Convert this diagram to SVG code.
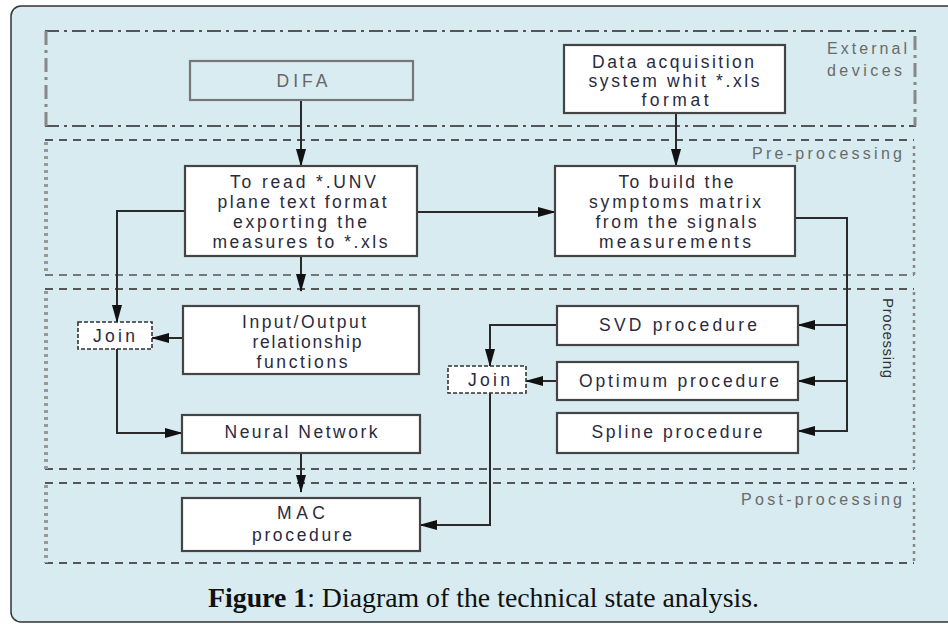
<svg xmlns="http://www.w3.org/2000/svg" width="948" height="624" viewBox="0 0 948 624">
<defs>
<marker id="ah" viewBox="0 0 18 10" refX="17" refY="5" markerWidth="18" markerHeight="10" markerUnits="userSpaceOnUse" orient="auto">
<path d="M0,0 L18,5 L0,10 z" fill="#111"/>
</marker>
<style>
.box{fill:#ffffff;stroke:#444;stroke-width:2.2}
.join{fill:#ffffff;stroke:#333;stroke-width:1.6;stroke-dasharray:4 2}
.t{font-family:"Liberation Sans",Arial,sans-serif;font-size:17.5px;fill:#2a2a3e;text-anchor:middle}
.lab{font-family:"Liberation Sans",Arial,sans-serif;font-size:16px;fill:#6a6a6a;text-anchor:end}
.ca{fill:none;stroke:#2a2a2a;stroke-width:2;marker-end:url(#ah)}
.dashH{fill:none;stroke:#555;stroke-width:2;stroke-dasharray:8 6}
.dashHl{fill:none;stroke:#777;stroke-width:1.8;stroke-dasharray:8 6}
.dotL{fill:none;stroke:#999;stroke-width:4;stroke-dasharray:3 4}
.dotR{fill:none;stroke:#888;stroke-width:2.5;stroke-dasharray:3 4}
.dd{fill:none;stroke:#555;stroke-width:2;stroke-dasharray:14 5 3 5}
.ddv{fill:none;stroke:#888;stroke-width:3;stroke-dasharray:14 5 3 5}
</style>
</defs>
<rect x="0" y="0" width="948" height="624" fill="#ffffff"/>
<rect x="11" y="6" width="950" height="616" rx="10" ry="10" fill="#d7ebf0" stroke="#333" stroke-width="1.5"/>

<g id="regions">
<path class="dd" d="M45,31 H916"/>
<path class="dd" d="M45,126 H916"/>
<path class="ddv" d="M46,31 V126"/>
<path class="ddv" d="M915,36 V126"/>
<path class="dashH" d="M45,140 H914"/>
<path class="dashHl" d="M45,275 H914"/>
<path class="dotL" d="M46,142 V275"/>
<path class="dotR" d="M914,146 V275"/>
<path class="dashH" d="M45,289 H914"/>
<path class="dashH" d="M45,469 H914"/>
<path class="dotL" d="M46,291 V469"/>
<path class="dotR" d="M914,292 V469"/>
<path class="dashH" d="M45,483 H914"/>
<path class="dashH" d="M45,563 H914"/>
<path class="dotL" d="M46,485 V563"/>
<path class="dotR" d="M914,488 V562"/>
</g>

<g id="region-labels">
<text class="lab" x="907" y="54" textLength="80" lengthAdjust="spacing">External</text>
<text class="lab" x="902" y="76" textLength="75" lengthAdjust="spacing">devices</text>
<text class="lab" x="902" y="159" textLength="150" lengthAdjust="spacing">Pre-processing</text>
<text class="lab" x="902" y="505" textLength="161" lengthAdjust="spacing">Post-processing</text>
<text font-family="Liberation Sans, Arial, sans-serif" font-size="15" fill="#333" text-anchor="middle" transform="translate(883,338) rotate(90)" textLength="80" lengthAdjust="spacing">Processing</text>
</g>

<g id="connectors">
<path class="ca" d="M301,100 V166"/>
<path class="ca" d="M676,113 V166"/>
<path class="ca" d="M417,212 H555"/>
<path class="ca" d="M185,211 H117 V322"/>
<path class="ca" d="M301,256 V291"/>
<path class="ca" d="M183,338 H152"/>
<path class="ca" d="M117,349 V433 H182"/>
<path class="ca" d="M301,453 V492"/>
<path class="ca" d="M795,218 H847 V431 H798"/>
<path class="ca" d="M847,325 H798"/>
<path class="ca" d="M847,381 H798"/>
<path class="ca" d="M557,325 H490 V366"/>
<path class="ca" d="M557,381 H526"/>
<path class="ca" d="M490,393 V525 H420"/>
</g>

<g id="difa">
<rect x="190" y="61" width="223" height="39" fill="#d9ecf1" stroke="#777" stroke-width="2.2"/>
<text class="t" x="302" y="87" style="fill:#666" textLength="51" lengthAdjust="spacing">DIFA</text>
</g>

<g id="data-acquisition">
<rect class="box" x="564" y="45" width="221" height="68"/>
<text class="t" x="673" y="68" textLength="162" lengthAdjust="spacing">Data acquisition</text>
<text class="t" x="674" y="87" textLength="171" lengthAdjust="spacing">system whit *.xls</text>
<text class="t" x="675" y="106" textLength="67" lengthAdjust="spacing">format</text>
</g>

<g id="to-read">
<rect class="box" x="185" y="166" width="232" height="90"/>
<text class="t" x="303" y="188" textLength="146" lengthAdjust="spacing">To read *.UNV</text>
<text class="t" x="302" y="208" textLength="169" lengthAdjust="spacing">plane text format</text>
<text class="t" x="300" y="228" textLength="134" lengthAdjust="spacing">exporting the</text>
<text class="t" x="300" y="248" textLength="175" lengthAdjust="spacing">measures to *.xls</text>
</g>

<g id="to-build">
<rect class="box" x="555" y="166" width="240" height="90"/>
<text class="t" x="676" y="188" textLength="115" lengthAdjust="spacing">To build the</text>
<text class="t" x="675" y="208" textLength="172" lengthAdjust="spacing">symptoms matrix</text>
<text class="t" x="676" y="228" textLength="161" lengthAdjust="spacing">from the signals</text>
<text class="t" x="675" y="248" textLength="152" lengthAdjust="spacing">measurements</text>
</g>

<g id="input-output">
<rect class="box" x="183" y="306" width="236" height="68"/>
<text class="t" x="304" y="328" textLength="124" lengthAdjust="spacing">Input/Output</text>
<text class="t" x="307" y="348" textLength="109" lengthAdjust="spacing">relationship</text>
<text class="t" x="302" y="368" textLength="91" lengthAdjust="spacing">functions</text>
</g>

<g id="join-left">
<rect class="join" x="78" y="322" width="74" height="27"/>
<text class="t" x="114" y="342" textLength="42" lengthAdjust="spacing">Join</text>
</g>

<g id="neural-network">
<rect class="box" x="182" y="415" width="238" height="38"/>
<text class="t" x="301" y="438" textLength="153" lengthAdjust="spacing">Neural Network</text>
</g>

<g id="mac">
<rect class="box" x="182" y="498" width="238" height="53"/>
<text class="t" x="301" y="519" textLength="48" lengthAdjust="spacing">MAC</text>
<text class="t" x="302" y="541" textLength="100" lengthAdjust="spacing">procedure</text>
</g>

<g id="svd">
<rect class="box" x="557" y="306" width="241" height="39"/>
<text class="t" x="678" y="331" textLength="158" lengthAdjust="spacing">SVD procedure</text>
</g>

<g id="optimum">
<rect class="box" x="557" y="362" width="241" height="38"/>
<text class="t" x="679" y="387" textLength="200" lengthAdjust="spacing">Optimum procedure</text>
</g>

<g id="spline">
<rect class="box" x="557" y="413" width="241" height="40"/>
<text class="t" x="677" y="438" textLength="171" lengthAdjust="spacing">Spline procedure</text>
</g>

<g id="join-right">
<rect class="join" x="448" y="366" width="78" height="27"/>
<text class="t" x="489" y="386" textLength="42" lengthAdjust="spacing">Join</text>
</g>

<text x="208" y="607" font-family="Liberation Serif, DejaVu Serif, serif" font-size="27" fill="#111" textLength="551" lengthAdjust="spacingAndGlyphs"><tspan font-weight="bold">Figure 1</tspan>: Diagram of the technical state analysis.</text>
</svg>
